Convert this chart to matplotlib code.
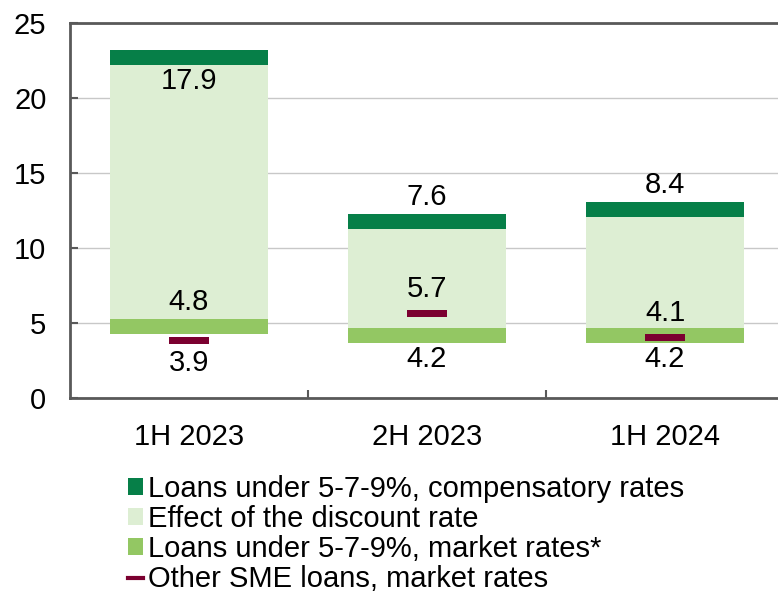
import matplotlib
matplotlib.use("Agg")
import matplotlib.pyplot as plt
from matplotlib.patches import Patch
from matplotlib.lines import Line2D

plt.rcParams['font.family'] = ['Liberation Sans', 'DejaVu Sans']

categories = ["1H 2023", "2H 2023", "1H 2024"]
market_rates = [4.8, 4.2, 4.2]          # Loans under 5-7-9%, market rates*
discount_effect = [17.9, 7.6, 8.4]      # Effect of the discount rate
other_sme = [3.9, 5.7, 4.1]             # Other SME loans, market rates
yticks = [0, 5, 10, 15, 20, 25]

# label placement (style): +1 above, -1 below
comp_label_side = [-1, 1, 1]
market_label_side = [1, -1, -1]
other_label_side = [-1, 1, 1]

c_dark = "#067F48"
c_light = "#DDEED3"
c_mid = "#93C763"
c_red = "#7B0030"

W, H = 778, 591
fig = plt.figure(figsize=(W / 100, H / 100), dpi=100)
ax = fig.add_axes([70 / W, (H - 398) / H, 714 / W, 375 / H])

x = list(range(len(categories)))
bw = 0.664
band = 1.0
comp = [m + d for m, d in zip(market_rates, discount_effect)]

ax.bar(x, discount_effect, bottom=market_rates, width=bw, color=c_light, zorder=2)
ax.bar(x, [band] * 3, bottom=[m - band / 2 for m in market_rates], width=bw, color=c_mid, zorder=3)
ax.bar(x, [band] * 3, bottom=[c - band / 2 for c in comp], width=bw, color=c_dark, zorder=3)
ax.bar(x, [0.5] * 3, bottom=[o - 0.3 for o in other_sme], width=0.168, color=c_red, zorder=4)

fs = 21
off = 17
for i in x:
    ax.annotate(f"{discount_effect[i]:.1f}", (i, comp[i]), xytext=(0, off * comp_label_side[i]),
                textcoords="offset points", ha="center", va="center", fontsize=fs, zorder=5)
    ax.annotate(f"{market_rates[i]:.1f}", (i, market_rates[i]), xytext=(0, off * market_label_side[i]),
                textcoords="offset points", ha="center", va="center", fontsize=fs, zorder=5)
    ax.annotate(f"{other_sme[i]:.1f}", (i, other_sme[i]), xytext=(0, off * other_label_side[i]),
                textcoords="offset points", ha="center", va="center", fontsize=fs, zorder=5)

ax.set_ylim(0, 25)
ax.set_xlim(-0.5, 2.5)
ax.set_yticks(yticks)
ax.set_yticklabels([str(t) for t in yticks], fontsize=fs)
ax.yaxis.grid(True, color="#C8C8C8", linewidth=1, zorder=1)
ax.set_axisbelow(True)
ax.tick_params(axis="y", direction="in", length=6, width=1.5, color="#595959", pad=17)

ax.set_xticks(x)
ax.set_xticklabels(categories, fontsize=fs)
ax.set_xticks([0.5, 1.5], minor=True)
ax.tick_params(axis="x", which="major", length=0, pad=18)
ax.tick_params(axis="x", which="minor", direction="in", length=6, width=1.5, color="#595959")

for s in ["left", "bottom", "top"]:
    ax.spines[s].set_color("#595959")
    ax.spines[s].set_linewidth(2)
ax.spines["right"].set_visible(False)

handles = [
    Patch(facecolor=c_dark, edgecolor="none"),
    Patch(facecolor=c_light, edgecolor="none"),
    Patch(facecolor=c_mid, edgecolor="none"),
    Line2D([0], [0], color=c_red, linewidth=3),
]
labels = [
    "Loans under 5-7-9%, compensatory rates",
    "Effect of the discount rate",
    "Loans under 5-7-9%, market rates*",
    "Other SME loans, market rates",
]
fig.legend(handles, labels, loc="upper left", bbox_to_anchor=(128 / W, 1 - 475 / H),
           frameon=False, fontsize=fs, handlelength=0.5, handleheight=0.5,
           handletextpad=0.2, labelspacing=0.07, borderpad=0, borderaxespad=0)

fig.savefig("out.png", dpi=100)
